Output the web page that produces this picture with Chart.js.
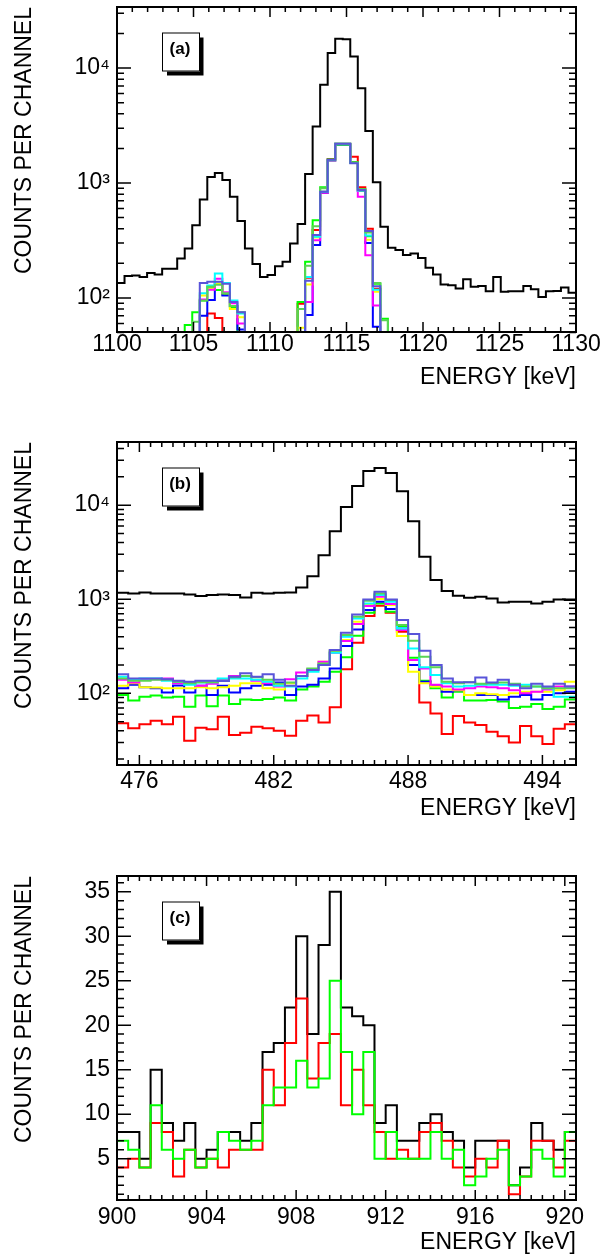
<!DOCTYPE html>
<html>
<head>
<meta charset="utf-8">
<title>Counts per channel</title>
<script src="https://cdn.jsdelivr.net/npm/chart.js@4.4.1/dist/chart.umd.min.js"></script>
<style>
    body { margin: 0; background: #fff; }
    canvas { position: absolute; left: 0; }
</style>
</head>
<body>
<canvas id="panelA" width="603" height="400" style="top:0px"></canvas>
<canvas id="panelB" width="603" height="430" style="top:400px"></canvas>
<canvas id="panelC" width="603" height="426" style="top:830px"></canvas>
<script>
// ROOT palette (colours 1..9)
const colors = {
    black: '#000000',
    red: '#ff0000',
    green: '#00ff00',
    blue: '#0000ff',
    yellow: '#ffff00',
    magenta: '#ff00ff',
    cyan: '#00ffff',
    green8: '#59d454',
    violet: '#5954d9'
};

const FONT = "'Liberation Sans', Arial, Helvetica, sans-serif";
const TEXT_SIZE = 23;

// ---------- Panel (a): 1100-1130 keV, 61 channels ----------
const A_X_RANGE = [1100, 1130];
const A_Y_RANGE = [50.5, 34000];
const A_X_TICKS = [1100, 1105, 1110, 1115, 1120, 1125, 1130];
const A_Y_TICKS = [100, 1000, 10000];
const A_Y_LABELS = ['10²', '10³', '10⁴'];

const A_BLACK = [135, 155, 157, 152, 165, 160, 179, 179, 220, 269,
    428, 720, 1128, 1222, 1062, 760, 466, 269, 197, 152,
    158, 189, 206, 298, 439, 1198, 3097, 7150, 13500, 18000,
    17780, 12630, 6690, 2840, 1014, 416, 273, 261, 236, 244,
    223, 183, 160, 131, 129, 121, 145, 125, 127, 114,
    152, 113, 114, 114, 127, 119, 102, 114, 115, 123, 111];
const A_RED = [0, 0, 0, 0, 0, 0, 0, 0, 0, 0,
    0, 0, 73, 67, 0, 0, 0, 0, 0, 0,
    0, 0, 0, 0, 89, 150, 389, 840, 1620, 2200,
    2200, 1695, 916, 400, 120, 0, 0, 0, 0, 0,
    0, 0, 0, 0, 0, 0, 0, 0, 0, 0,
    0, 0, 0, 0, 0, 0, 0, 0, 0, 0, 0];
const A_GREEN = [0, 0, 0, 0, 0, 0, 0, 0, 0, 58,
    75, 95, 125, 117, 107, 83, 0, 0, 0, 0,
    0, 0, 0, 0, 92, 206, 475, 916, 1600, 2150,
    2150, 1520, 880, 344, 133, 66, 0, 0, 0, 0,
    0, 0, 0, 0, 0, 0, 0, 0, 0, 0,
    0, 0, 0, 0, 0, 0, 0, 0, 0, 0, 0];
const A_BLUE = [0, 0, 0, 0, 0, 0, 0, 0, 0, 0,
    0, 70, 96, 133, 105, 85, 53, 0, 0, 0,
    0, 0, 0, 0, 0, 71, 288, 820, 1560, 2170,
    2170, 1500, 850, 300, 56, 0, 0, 0, 0, 0,
    0, 0, 0, 0, 0, 0, 0, 0, 0, 0,
    0, 0, 0, 0, 0, 0, 0, 0, 0, 0, 0];
const A_YELLOW = [0, 0, 0, 0, 0, 0, 0, 0, 0, 0,
    0, 105, 120, 133, 110, 80, 68, 0, 0, 0,
    0, 0, 0, 0, 55, 131, 336, 830, 1570, 2180,
    2180, 1500, 860, 320, 113, 0, 0, 0, 0, 0,
    0, 0, 0, 0, 0, 0, 0, 0, 0, 0,
    0, 0, 0, 0, 0, 0, 0, 0, 0, 0, 0];
const A_MAGENTA = [0, 0, 0, 0, 0, 0, 0, 0, 0, 0,
    0, 97, 118, 147, 112, 90, 60, 0, 0, 0,
    0, 0, 0, 0, 0, 92, 318, 824, 1570, 2180,
    2180, 1490, 759, 235, 86, 0, 0, 0, 0, 0,
    0, 0, 0, 0, 0, 0, 0, 0, 0, 0,
    0, 0, 0, 0, 0, 0, 0, 0, 0, 0, 0];
const A_CYAN = [0, 0, 0, 0, 0, 0, 0, 0, 0, 0,
    0, 110, 128, 163, 135, 95, 73, 0, 0, 0,
    0, 0, 0, 0, 0, 152, 340, 840, 1580, 2200,
    2200, 1490, 860, 350, 118, 0, 0, 0, 0, 0,
    0, 0, 0, 0, 0, 0, 0, 0, 0, 0,
    0, 0, 0, 0, 0, 0, 0, 0, 0, 0, 0];
const A_GREEN8 = [0, 0, 0, 0, 0, 0, 0, 0, 0, 0,
    62, 95, 125, 130, 110, 85, 75, 0, 0, 0,
    0, 0, 0, 0, 80, 190, 420, 900, 1590, 2200,
    2200, 1500, 880, 370, 135, 64, 0, 0, 0, 0,
    0, 0, 0, 0, 0, 0, 0, 0, 0, 0,
    0, 0, 0, 0, 0, 0, 0, 0, 0, 0, 0];
const A_VIOLET = [0, 0, 0, 0, 0, 0, 0, 0, 0, 0,
    0, 135, 138, 138, 133, 92, 75, 0, 0, 0,
    0, 0, 0, 0, 0, 141, 352, 840, 1590, 2190,
    2190, 1485, 870, 382, 126, 0, 0, 0, 0, 0,
    0, 0, 0, 0, 0, 0, 0, 0, 0, 0,
    0, 0, 0, 0, 0, 0, 0, 0, 0, 0, 0];

// ---------- Panel (b): 475-495.5 keV, 0.5 keV channels ----------
const B_X_RANGE = [475, 495.5];
const B_Y_RANGE = [17.3, 46900];
const B_X_TICKS = [476, 482, 488, 494];
const B_Y_TICKS = [100, 1000, 10000];
const B_Y_LABELS = ['10²', '10³', '10⁴'];

const B_BLACK = [1172, 1152, 1181, 1152, 1152, 1152, 1124, 1079, 1106, 1124,
    1106, 1045, 1172, 1152, 1172, 1181, 1335, 1760, 2941, 5289,
    9585, 16020, 23110, 24860, 22000, 14080, 6751, 2824, 1597, 1220,
    1089, 1036, 1062, 1020, 925, 940, 940, 903, 940, 995, 979];
const B_RED = [48, 42.5, 47, 51, 47, 56.5, 31.4, 43, 41.5, 56.5,
    36, 38, 44, 42.5, 40, 35.5, 51, 58, 49, 71,
    180, 345, 662, 852, 718, 451, 200, 80, 61, 37,
    57.5, 49, 46, 39, 35, 30, 45, 35, 29, 42, 47];
const B_GREEN = [96, 84, 92, 94.5, 90, 92, 72, 94.5, 73, 94.5,
    77, 86, 85, 87, 90, 84, 110, 118, 133, 170,
    241, 409, 718, 903, 736, 518, 239, 136, 113, 90,
    104, 84, 84, 85, 82, 70, 72, 77, 68, 72, 86];
const B_BLUE = [113, 123, 116, 113, 102, 121, 102, 120, 96, 120,
    102, 113, 120, 123, 130, 96, 118, 123, 144, 184,
    318, 478, 767, 940, 786, 490, 200, 133, 120, 104,
    108, 96, 96, 96, 86, 92, 96, 86, 96, 100, 104];
const B_YELLOW = [120, 128, 116, 115, 113, 113, 113, 116, 113, 116,
    120, 128, 128, 113, 110, 128, 153, 180, 217, 277,
    368, 577, 866, 1003, 866, 406, 170, 128, 118, 110,
    108, 96, 100, 98, 96, 100, 104, 104, 104, 108, 133];
const B_MAGENTA = [139, 130, 139, 141, 144, 128, 128, 120, 126, 141,
    153, 153, 136, 128, 118, 141, 166, 180, 217, 270,
    359, 545, 846, 1062, 888, 470, 226, 184, 123, 118,
    110, 113, 118, 116, 113, 108, 100, 104, 110, 118, 118];
const B_CYAN = [150, 141, 144, 144, 136, 133, 123, 130, 131, 144,
    144, 144, 139, 133, 120, 118, 144, 170, 200, 270,
    400, 625, 903, 1106, 940, 490, 300, 189, 157, 128,
    118, 120, 123, 123, 123, 120, 123, 118, 113, 92, 92];
const B_GREEN8 = [144, 136, 136, 139, 139, 133, 128, 131, 131, 136,
    148, 153, 148, 139, 126, 130, 153, 184, 208, 284,
    416, 652, 963, 1152, 979, 531, 362, 245, 189, 133,
    128, 131, 126, 128, 130, 126, 118, 118, 113, 113, 113];
const B_VIOLET = [159, 144, 144, 144, 141, 136, 133, 136, 136, 135,
    150, 163, 150, 159, 139, 120, 153, 177, 200, 288,
    441, 690, 995, 1200, 995, 600, 427, 284, 200, 144,
    131, 131, 147, 130, 139, 123, 113, 126, 118, 126, 118];

// ---------- Panel (c): 900-920.5 keV, 0.5 keV channels ----------
const C_X_RANGE = [900, 920.5];
const C_Y_RANGE = [0.35, 36.77];
const C_X_TICKS = [900, 904, 908, 912, 916, 920];
const C_Y_TICKS = [5, 10, 15, 20, 25, 30, 35];
const C_Y_LABELS = ['5', '10', '15', '20', '25', '30', '35'];

const C_BLACK = [8, 8, 5, 15, 9, 7, 9, 5, 6, 8,
    8, 7, 9, 17, 18, 22, 30, 19, 29, 35,
    22, 21, 20, 9, 11, 7, 7, 9, 10, 8,
    7, 4, 7, 7, 7, 2, 4, 9, 7, 6, 8];
const C_RED = [4, 5, 4, 9, 8, 3, 6, 4, 5, 4,
    6, 6, 6, 15, 11, 18, 23, 14, 18, 19,
    11, 15, 11, 8, 5, 6, 5, 8, 9, 7,
    4, 3, 5, 4, 7, 1, 3, 7, 7, 4, 7];
const C_GREEN = [7, 6, 4, 11, 6, 5, 6, 4, 5, 8,
    7, 6, 7, 11, 13, 13, 16, 13, 14, 25,
    17, 10, 17, 5, 8, 5, 5, 5, 8, 5,
    6, 2, 3, 5, 6, 2, 3, 6, 5, 3, 8];

// Turn channel contents into step points at the channel edges
function histogram(values, lo, hi, floor) {
    const w = (hi - lo) / values.length;
    const pts = values.map((v, i) => ({ x: lo + i * w, y: Math.max(v, floor) }));
    pts.push({ x: hi, y: pts[pts.length - 1].y });
    return pts;
}

// ROOT-style frame: inward ticks on all four sides + boxed panel label
const framePlugin = {
    id: 'frame',
    afterDraw(chart, args, opts) {
        const { ctx, chartArea: a } = chart;
        const xs = chart.scales.x;
        const ys = chart.scales.y;
        ctx.save();
        ctx.strokeStyle = '#000';
        ctx.lineWidth = 1.5;
        ctx.beginPath();

        const xTick = (v, len) => {
            const px = xs.getPixelForValue(v);
            if (px < a.left - 0.5 || px > a.right + 0.5) return;
            ctx.moveTo(px, a.bottom); ctx.lineTo(px, a.bottom - len);
            ctx.moveTo(px, a.top); ctx.lineTo(px, a.top + len);
        };
        const k0 = Math.ceil(xs.min / opts.xMinor - 1e-9);
        for (let k = k0; k * opts.xMinor <= xs.max + 1e-9; k++) xTick(k * opts.xMinor, 5);
        opts.xMajor.forEach(v => xTick(v, 10));

        const yTick = (v, len) => {
            const py = ys.getPixelForValue(v);
            if (py < a.top - 0.5 || py > a.bottom + 0.5) return;
            ctx.moveTo(a.left, py); ctx.lineTo(a.left + len, py);
            ctx.moveTo(a.right, py); ctx.lineTo(a.right - len, py);
        };
        if (opts.logY) {
            const e0 = Math.floor(Math.log10(ys.min));
            const e1 = Math.ceil(Math.log10(ys.max));
            for (let e = e0; e <= e1; e++) {
                for (let d = 1; d <= 9; d++) yTick(d * Math.pow(10, e), d === 1 ? 14 : 7);
            }
        } else {
            for (let v = Math.ceil(ys.min); v <= ys.max; v += opts.yMinor) yTick(v, 7);
            opts.yMajor.forEach(v => yTick(v, 14));
        }
        ctx.stroke();

        ctx.lineWidth = 2;
        ctx.strokeRect(a.left, a.top, a.right - a.left, a.bottom - a.top);

        // label box with drop shadow
        const bx = a.left + 45, by = a.top + 25.5, bw = 38, bh = 39;
        ctx.fillStyle = '#000';
        ctx.fillRect(bx + 5, by + 5, bw - 1.5, bh - 1);
        ctx.fillStyle = '#fff';
        ctx.fillRect(bx, by, bw, bh);
        ctx.lineWidth = 1;
        ctx.strokeRect(bx + 0.5, by + 0.5, bw - 1, bh - 1);
        ctx.fillStyle = '#000';
        ctx.font = 'bold 17px ' + FONT;
        ctx.textAlign = 'center';
        ctx.textBaseline = 'middle';
        ctx.fillText(opts.label, bx + bw / 2 - 1, by + bh / 2 - 2.5);
        ctx.restore();
    }
};

function makePanel(id, p) {
    const datasets = p.series.map((s, i) => ({
        data: histogram(s.values, p.xRange[0], p.xRange[1], p.yRange[0]),
        borderColor: s.color,
        borderWidth: 2,
        pointRadius: 0,
        stepped: true,
        fill: false,
        order: p.series.length - i
    }));

    return new Chart(document.getElementById(id), {
        type: 'line',
        data: { datasets },
        options: {
            responsive: false,
            animation: false,
            devicePixelRatio: 1,
            events: [],
            layout: { autoPadding: false, padding: { left: 0, right: 27, top: p.top, bottom: 0 } },
            plugins: {
                legend: { display: false },
                tooltip: { enabled: false },
                frame: {
                    label: p.label,
                    xMajor: p.xTicks,
                    xMinor: p.xMinor,
                    logY: p.logY,
                    yMajor: p.yTicks,
                    yMinor: 1
                }
            },
            scales: {
                x: {
                    type: 'linear',
                    min: p.xRange[0],
                    max: p.xRange[1],
                    grid: { display: false, drawTicks: false },
                    border: { display: false },
                    afterBuildTicks: s => { s.ticks = p.xTicks.map(value => ({ value })); },
                    ticks: {
                        color: '#000',
                        font: { family: FONT, size: TEXT_SIZE },
                        padding: p.labelPad,
                        autoSkip: false,
                        maxRotation: 0,
                        callback: v => String(v)
                    },
                    title: {
                        display: true,
                        text: 'ENERGY [keV]',
                        align: 'end',
                        color: '#000',
                        font: { family: FONT, size: TEXT_SIZE },
                        padding: { top: 0, bottom: p.titlePad }
                    },
                    afterFit: s => { s.height = p.axisH; s.paddingLeft = 0; s.paddingRight = 0; }
                },
                y: {
                    type: p.logY ? 'logarithmic' : 'linear',
                    min: p.yRange[0],
                    max: p.yRange[1],
                    grid: { display: false, drawTicks: false },
                    border: { display: false },
                    afterBuildTicks: s => { s.ticks = p.yTicks.map(value => ({ value })); },
                    ticks: {
                        color: '#000',
                        font: { family: FONT, size: TEXT_SIZE },
                        padding: 7,
                        autoSkip: false,
                        callback: (v, i) => p.yLabels[i]
                    },
                    title: {
                        display: true,
                        text: 'COUNTS PER CHANNEL',
                        align: 'end',
                        color: '#000',
                        font: { family: FONT, size: TEXT_SIZE },
                        padding: { top: 10.5, bottom: 0 }
                    },
                    afterFit: s => { s.width = 117; s.paddingTop = 0; s.paddingBottom = 0; }
                }
            }
        },
        plugins: [framePlugin]
    });
}

makePanel('panelA', {
    label: '(a)', top: 7, axisH: 68, labelPad: -1, titlePad: 9,
    xRange: A_X_RANGE, yRange: A_Y_RANGE, logY: true,
    xTicks: A_X_TICKS, xMinor: 1, yTicks: A_Y_TICKS, yLabels: A_Y_LABELS,
    series: [
        { values: A_BLACK, color: colors.black },
        { values: A_RED, color: colors.red },
        { values: A_GREEN, color: colors.green },
        { values: A_BLUE, color: colors.blue },
        { values: A_YELLOW, color: colors.yellow },
        { values: A_MAGENTA, color: colors.magenta },
        { values: A_CYAN, color: colors.cyan },
        { values: A_GREEN8, color: colors.green8 },
        { values: A_VIOLET, color: colors.violet }
    ]
});

makePanel('panelB', {
    label: '(b)', top: 42, axisH: 65, labelPad: 2.5, titlePad: 7.5,
    xRange: B_X_RANGE, yRange: B_Y_RANGE, logY: true,
    xTicks: B_X_TICKS, xMinor: 0.5, yTicks: B_Y_TICKS, yLabels: B_Y_LABELS,
    series: [
        { values: B_BLACK, color: colors.black },
        { values: B_RED, color: colors.red },
        { values: B_GREEN, color: colors.green },
        { values: B_BLUE, color: colors.blue },
        { values: B_YELLOW, color: colors.yellow },
        { values: B_MAGENTA, color: colors.magenta },
        { values: B_CYAN, color: colors.cyan },
        { values: B_GREEN8, color: colors.green8 },
        { values: B_VIOLET, color: colors.violet }
    ]
});

makePanel('panelC', {
    label: '(c)', top: 46, axisH: 56, labelPad: 3.8, titlePad: 0,
    xRange: C_X_RANGE, yRange: C_Y_RANGE, logY: false,
    xTicks: C_X_TICKS, xMinor: 0.5, yTicks: C_Y_TICKS, yLabels: C_Y_LABELS,
    series: [
        { values: C_BLACK, color: colors.black },
        { values: C_RED, color: colors.red },
        { values: C_GREEN, color: colors.green }
    ]
});
</script>
</body>
</html>
